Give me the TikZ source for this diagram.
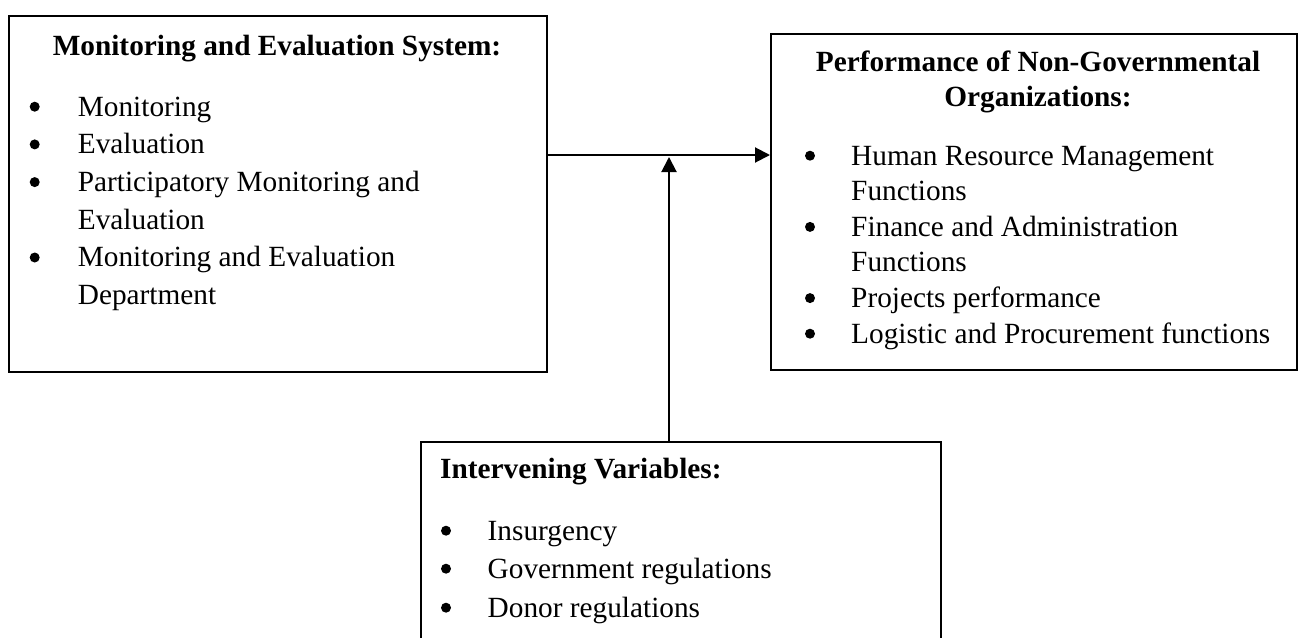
\documentclass[tikz,border=0pt]{standalone}
\usepackage{fontspec}
\setmainfont{Liberation Serif}
\usetikzlibrary{arrows.meta}
\begin{document}
\begin{tikzpicture}[x=1pt,y=-1pt,
  box/.style={draw=black, line width=1.5pt, rectangle, inner sep=0pt, anchor=north west},
  txt/.style={inner sep=0pt, anchor=base west, font=\fontsize{29.3}{35}\selectfont},
  ttl/.style={inner sep=0pt, anchor=base, font=\fontsize{29.3}{35}\selectfont\bfseries},
  ttlw/.style={inner sep=0pt, anchor=base west, font=\fontsize{29.3}{35}\selectfont\bfseries},
  dot/.style={circle, fill=black, draw=none, inner sep=0pt, minimum size=10pt, yshift=9.3pt},
  arr/.style={line width=2pt, -{Triangle[length=15pt,width=15pt]}}]
\useasboundingbox (0,0) rectangle (1298,637);
\fill[white] (0,0) rectangle (1298,637);

% boxes
\node[box, minimum width=538pt, minimum height=356pt] (b1) at (8,15) {};
\node[box, minimum width=526pt, minimum height=336pt] (b2) at (770,33) {};
\node[box, minimum width=520pt, minimum height=230pt] (b3) at (420,441) {};

% box 1 text
\node[ttl] (t1) at (277,55) {Monitoring and Evaluation System:};
\node[dot] (p11) at (34.7,116) {};
\node[txt] (i11) at (77.7,116) {Monitoring};
\node[dot] (p12) at (34.7,153.7) {};
\node[txt] (i12) at (77.7,153.7) {Evaluation};
\node[dot] (p13) at (34.7,191.4) {};
\node[txt] (i13) at (77.7,191.4) {Participatory Monitoring and};
\node[txt] (i13b) at (77.7,229) {Evaluation};
\node[dot] (p14) at (34.7,266.8) {};
\node[txt] (i14) at (77.7,266.8) {Monitoring and Evaluation};
\node[txt] (i14b) at (77.7,304.5) {Department};

% box 2 text
\node[ttl] (t2a) at (1038,71) {Performance of Non-Governmental};
\node[ttl] (t2b) at (1038,106) {Organizations:};
\node[dot] (p21) at (810,165) {};
\node[txt] (i21) at (851,165) {Human Resource Management};
\node[txt] (i21b) at (851,200.6) {Functions};
\node[dot] (p22) at (810,236.2) {};
\node[txt] (i22) at (851,236.2) {Finance and Administration};
\node[txt] (i22b) at (851,271.8) {Functions};
\node[dot] (p23) at (810,307.4) {};
\node[txt] (i23) at (851,307.4) {Projects performance};
\node[dot] (p24) at (810,343) {};
\node[txt] (i24) at (851,343) {Logistic and Procurement functions};

% box 3 text
\node[ttlw] (t3) at (440,478) {Intervening Variables:};
\node[dot] (p31) at (446,540) {};
\node[txt] (i31) at (487.5,540) {Insurgency};
\node[dot] (p32) at (446,578) {};
\node[txt] (i32) at (487.5,578) {Government regulations};
\node[dot] (p33) at (446,617) {};
\node[txt] (i33) at (487.5,617) {Donor regulations};

% connectors
\coordinate (h) at (0,155);
\coordinate (v) at (669,0);
\coordinate (vt) at (669,157);
\draw[arr] (b1.east |- h) -- (b2.west |- h);
\draw[arr] (b3.north -| v) -- (vt);
\end{tikzpicture}
\end{document}
